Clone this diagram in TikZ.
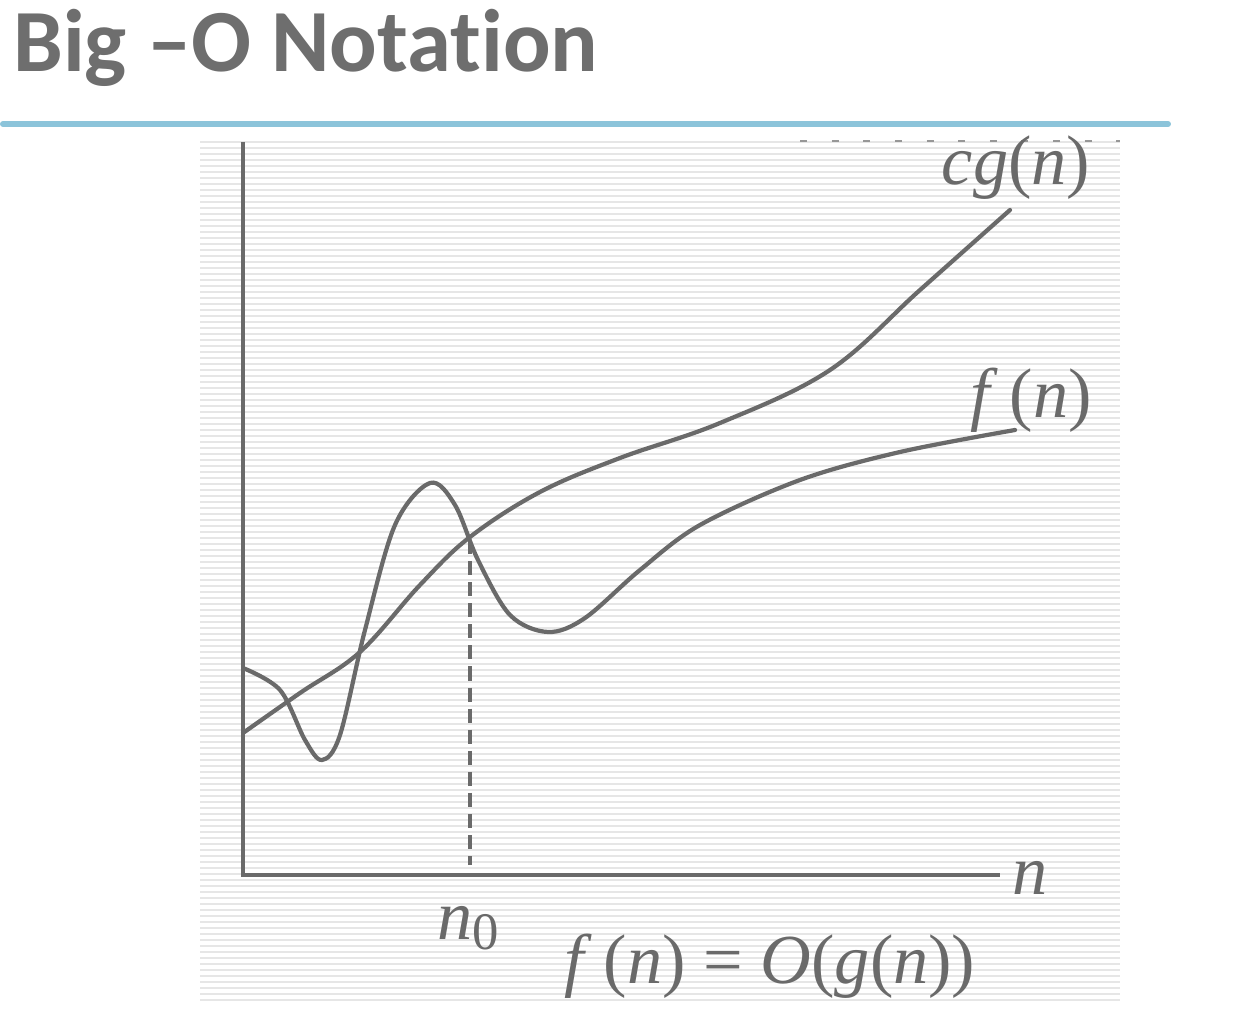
\documentclass[tikz,border=0pt]{standalone}
\usepackage{fontspec}
\newfontfamily\titlefont[Ligatures=NoCommon]{Carlito}
\newfontfamily\lblfont{Liberation Serif}
\definecolor{titlegray}{HTML}{6E6E6E}
\definecolor{rulecol}{HTML}{8CC4DA}
\definecolor{inkgray}{HTML}{6A6A6A}
\definecolor{stripe}{HTML}{E6E6E6}
\newcommand\vi[1]{\textit{#1}}
\tikzset{
  axisline/.style={draw=inkgray,line width=2.8pt},
  curveline/.style={draw=inkgray,line width=2.4pt,line cap=round,line join=round},
  mathlabel/.style={text=inkgray,font=\lblfont\fontsize{40}{46}\selectfont,inner sep=0pt}
}
\begin{document}
\begin{tikzpicture}[x=0.02cm,y=-0.02cm]
\useasboundingbox (0,0) rectangle (1252,1026);
\fill[white] (0,0) rectangle (1252,1026);
% striped background
\foreach \yy in {142,148,...,1004} \draw[stripe,line width=1.1pt] (200,\yy) -- (1120,\yy);
% title
\node[anchor=base west,inner sep=0pt,text=titlegray,font=\titlefont\bfseries\fontsize{50.5}{58}\selectfont] (title) at (13,72) {Big –O Notation};
% rule
\draw[rulecol,line width=3.4pt,line cap=round] (3,124) -- (1168,124);
% faint dots at top
\draw[inkgray!70,line width=1.2pt,dash pattern=on 4pt off 14pt] (800,141) -- (1120,141);
% axes
\coordinate (origin) at (243,875);
\coordinate (ytop) at (243,142);
\coordinate (xend) at (1000,875);
\draw[axisline] (ytop) -- (origin) -- (xend);
\node[mathlabel] (nlab) at (1030,878) {\vi{n}};
% dashed n0 line
\coordinate (cross) at (470,540);
\coordinate (nfoot) at (470,865);
\draw[inkgray,line width=1.8pt,dash pattern=on 8pt off 4pt] (cross) -- (nfoot);
\node[mathlabel] (n0lab) at (468,928) {\vi{n}\raisebox{-0.3ex}{\fontsize{30}{34}\selectfont 0}};
% cg(n)
\draw[curveline] plot[smooth,tension=0.6] coordinates {(243,733) (300,693) (360,652) (420,585) (470,537) (540,492) (620,458) (720,423) (830,370) (920,290) (1010,210)};
% f(n)
\draw[curveline] plot[smooth,tension=0.55] coordinates {(243,668) (280,690) (305,740) (322,760) (340,735) (365,630) (395,525) (430,483) (455,505) (478,560) (510,615) (548,632) (585,618) (640,570) (700,525) (800,480) (900,452) (1015,430)};
\node[mathlabel] (cglab) at (1016,168) {\vi{cg}(\vi{n})};
\node[mathlabel] (flab) at (1031,400) {\vi{f}\,(\vi{n})};
\node[mathlabel] (eqlab) at (770,966) {\vi{f}\,(\vi{n}) = \vi{O}(\vi{g}(\vi{n}))};
\end{tikzpicture}
\end{document}
